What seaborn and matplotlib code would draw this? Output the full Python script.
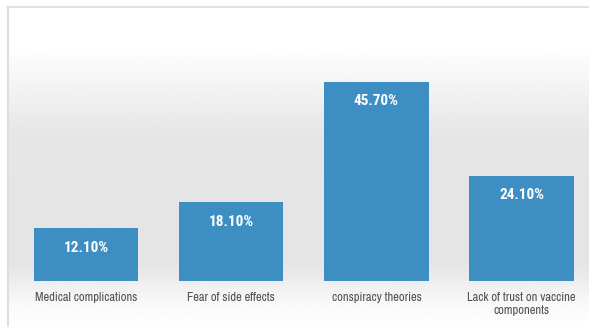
import numpy as np
import pandas as pd
import matplotlib.pyplot as plt
import seaborn as sns

# Chart data
reasons = ['Medical complications', 'Fear of side effects', 'conspiracy theories',
           'Lack of trust on vaccine\ncomponents']
percent = [12.1, 18.1, 45.7, 24.1]
value_labels = ['12.10%', '18.10%', '45.70%', '24.10%']

df = pd.DataFrame({'reason': reasons, 'percent': percent})

sns.set_style('white')
plt.rcParams['font.family'] = ['Archivo Narrow', 'DejaVu Sans']

W, H = 589, 327
fig = plt.figure(figsize=(W / 100, H / 100), dpi=100)
fig.patch.set_facecolor('white')

# gradient background panel (white -> light gray -> white)
bg = fig.add_axes([7 / W, 0, 1 - 7 / W, 1 - 7 / H])
ys = np.linspace(0, 1, 200)
shade = np.interp(ys, [0, 0.12, 0.4, 0.8, 0.92, 1.0], [1.0, 1.0, 0.9, 0.895, 0.97, 1.0])
grad = np.repeat(shade[:, None], 2, axis=1)
bg.imshow(grad, cmap='gray', vmin=0, vmax=1, aspect='auto', extent=[0, 1, 1, 0])
bg.set_xticks([]); bg.set_yticks([])
for s in bg.spines.values():
    s.set_visible(False)
fig.add_artist(plt.Line2D([7.5 / W, 7.5 / W], [0, 1 - 7 / H], color='#dedede', lw=1.5))
fig.add_artist(plt.Line2D([7 / W, 1], [1 - 7 / H, 1 - 7 / H], color='#e2e2e2', lw=1.5))

ax = fig.add_axes([7 / W, 46 / H, 1 - 7 / W, (281 - 7) / H])
ax.patch.set_alpha(0)
sns.barplot(data=df, x='reason', y='percent', color='#3d8ec3', saturation=1,
            width=0.72, linewidth=0, ax=ax)
ax.set_xlim(-0.544, 3.464)
ax.set_ylim(0, 62.9)
ax.set_xlabel('')
ax.set_ylabel('')
ax.set_yticks([])
ax.tick_params(axis='x', length=0, pad=8, labelsize=9, labelcolor='#505050')
for s in ax.spines.values():
    s.set_visible(False)

for i, (v, lab) in enumerate(zip(percent, value_labels)):
    ax.annotate(lab, (i, v), xytext=(0, -14), textcoords='offset points',
                ha='center', va='center', color='white', fontsize=11,
                fontweight='bold',
                family=['Roboto Condensed', 'Barlow Condensed', 'Archivo Narrow', 'DejaVu Sans'])

fig.savefig('out.png', dpi=100)
